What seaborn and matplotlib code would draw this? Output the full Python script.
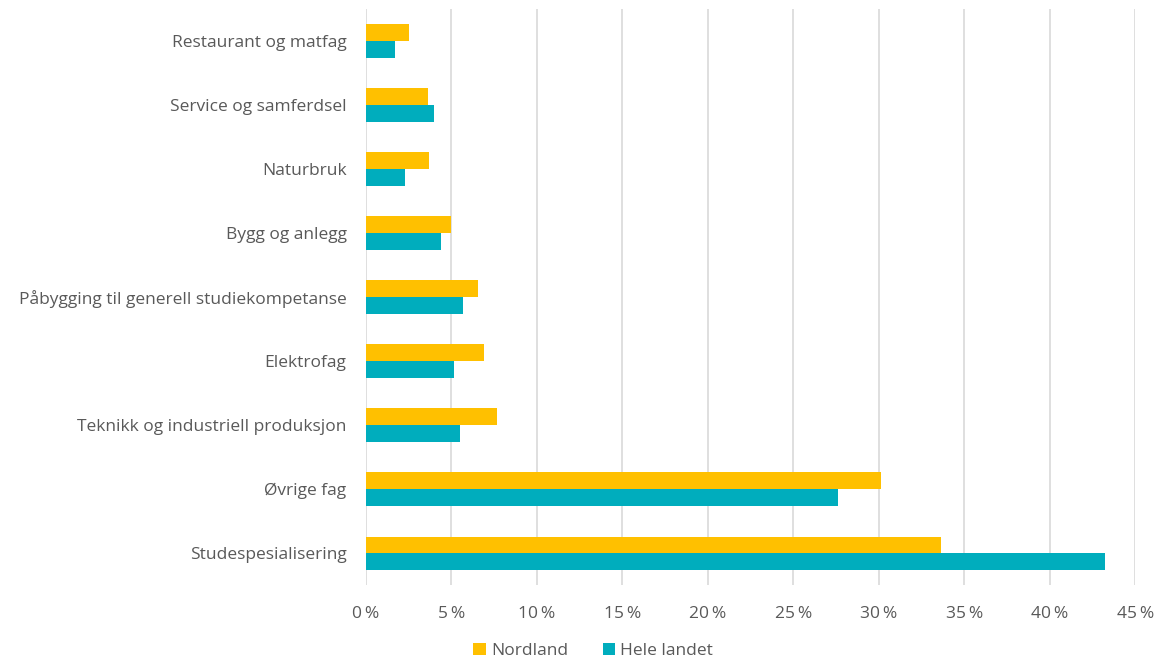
import matplotlib
matplotlib.use("Agg")
import matplotlib.pyplot as plt
import seaborn as sns
import pandas as pd
from matplotlib.ticker import FuncFormatter

categories = [
    "Restaurant og matfag",
    "Service og samferdsel",
    "Naturbruk",
    "Bygg og anlegg",
    "Påbygging til generell studiekompetanse",
    "Elektrofag",
    "Teknikk og industriell produksjon",
    "Øvrige fag",
    "Studespesialisering",
]
nordland = [2.5, 3.6, 3.7, 5.0, 6.55, 6.9, 7.65, 30.1, 33.6]
hele_landet = [1.7, 4.0, 2.3, 4.4, 5.7, 5.15, 5.5, 27.6, 43.2]
series = ["Nordland", "Hele landet"]
colors = ["#FFC000", "#00ADBD"]

df = pd.DataFrame({
    "kategori": categories * 2,
    "andel": nordland + hele_landet,
    "serie": [series[0]] * len(categories) + [series[1]] * len(categories),
})

sns.set_theme(style="white")
plt.rcParams["font.family"] = ["Open Sans", "DejaVu Sans"]

fig = plt.figure(figsize=(11.63, 6.68), dpi=100)
ax = fig.add_axes([0.3147, 0.124, 0.6616, 0.8625])

sns.barplot(data=df, y="kategori", x="andel", hue="serie", order=categories,
            hue_order=series, palette=colors, width=0.52, ax=ax,
            saturation=1, legend=True, linewidth=0)

ax.set_xlim(0, 45)
ax.set_xticks(range(0, 46, 5))
ax.xaxis.set_major_formatter(FuncFormatter(lambda v, p: f"{int(v)}\u2009%"))
ax.grid(axis="x", color="#D9D9D9", linewidth=1.2)
ax.set_axisbelow(True)
for s in ax.spines.values():
    s.set_visible(False)
ax.set_xlabel("")
ax.set_ylabel("")
ax.tick_params(axis="x", length=0, pad=15, labelsize=12.5, labelcolor="#595959")
ax.tick_params(axis="y", length=0, pad=14, labelsize=12.5, labelcolor="#595959")

handles, labels = ax.get_legend_handles_labels()
ax.get_legend().remove()
fig.legend(handles, labels, loc="lower center", bbox_to_anchor=(0.51, -0.01),
           ncol=2, frameon=False, fontsize=12.5, labelcolor="#595959",
           handlelength=0.7, handleheight=0.7, handletextpad=0.3, columnspacing=2.0)

fig.savefig("out.png", dpi=100)
